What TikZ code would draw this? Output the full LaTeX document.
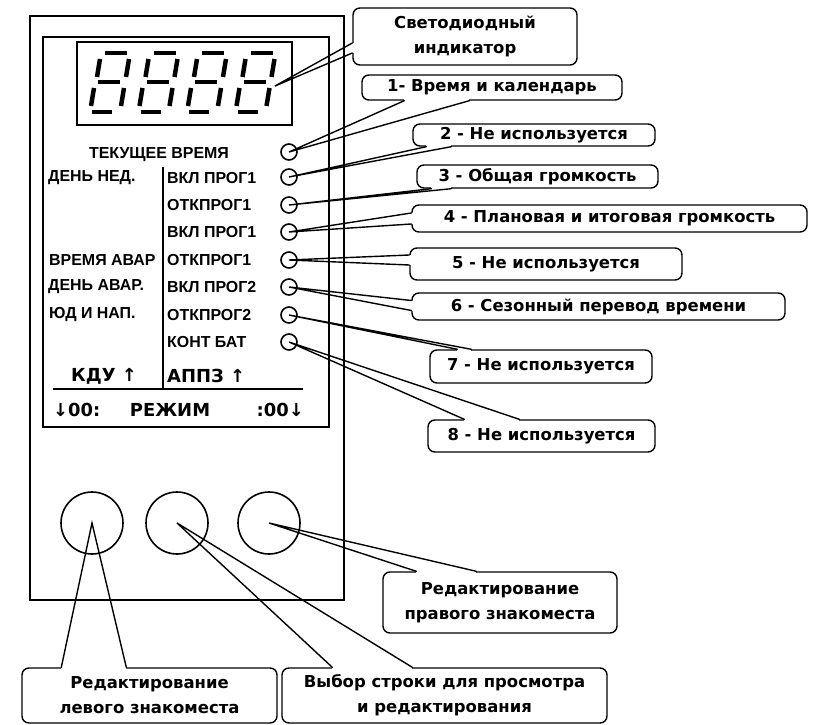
\documentclass[tikz,border=0pt]{standalone}
\usepackage{fontspec}
\setmainfont{DejaVu Sans}
\newfontfamily\panelfam{Liberation Sans}
\usetikzlibrary{calc}
\newcommand\panelfont{\panelfam\bfseries\fontsize{16}{18}\selectfont}
\newcommand\modefont{\bfseries\fontsize{18}{20}\selectfont}
\newcommand\notefont{\bfseries\fontsize{16.5}{25}\selectfont}
\tikzset{
  frame/.style={line width=1.6pt},
  panel/.style={font=\panelfont, inner sep=0pt, anchor=west},
  modetext/.style={font=\modefont, inner sep=0pt, anchor=west},
  led/.style={circle, draw, line width=1.6pt, minimum size=16bp, inner sep=0pt},
  knob/.style={circle, draw, line width=1.6pt, minimum size=62bp, inner sep=0pt},
  note/.style={rectangle, draw, line width=1.4pt, rounded corners=7bp,
    font=\notefont, align=center, inner sep=0pt},
  erase/.style={white, line width=2.8pt},
  tail/.style={line width=1.4pt, line cap=round},
  seg/.style={line width=4.5bp}
}
% pointer of a callout: node, anchor, two base offsets, target
\newcommand\notetail[5]{%
  \draw[erase] ($(#1.#2)+#3$) -- ($(#1.#2)+#4$);
  \draw[tail] ($(#1.#2)+#3$) -- (#5) -- ($(#1.#2)+#4$);}

\begin{document}
\begin{tikzpicture}[x=1bp, y=-1bp]
\useasboundingbox (0,0) rectangle (818,725);

% device body, panel and display window
\draw[frame] (30,16) rectangle (344,600);
\draw[frame] (43,37) rectangle (329,427);
\draw[frame] (77,42) rectangle (292,125);

% four seven-segment digits
\foreach \dx in {0,48.5,97,145.5} {
  \begin{scope}[shift={(105+\dx,53)}]
    \draw[seg] (0,0) -- (22,0);
    \draw[seg] (-5,6) -- (-8,24);
    \draw[seg] (24,6) -- (21,24);
    \draw[seg] (-7,29) -- (15,29);
    \draw[seg] (-11,35) -- (-14,53);
    \draw[seg] (19,35) -- (16,53);
    \draw[seg] (-13,59) -- (7,59);
  \end{scope}
}
\coordinate (disp) at (275,86);

% panel captions
\node[panel, anchor=center] (tnow) at (159,155) {ТЕКУЩЕЕ ВРЕМЯ};
\node[panel] (lday) at (48,178) {ДЕНЬ НЕД.};
\node[panel] (lalt) at (49,260) {ВРЕМЯ АВАР};
\node[panel] (ldal) at (48,287) {ДЕНЬ АВАР.};
\node[panel] (lcod) at (49,315) {ЮД И НАП.};
\node[panel] (r1) at (167,178) {ВКЛ ПРОГ1};
\node[panel] (r2) at (167,205) {ОТКПРОГ1};
\node[panel] (r3) at (167,232) {ВКЛ ПРОГ1};
\node[panel] (r4) at (167,260) {ОТКПРОГ1};
\node[panel] (r5) at (167,287) {ВКЛ ПРОГ2};
\node[panel] (r6) at (167,315) {ОТКПРОГ2};
\node[panel] (r7) at (167,342) {КОНТ БАТ};
\node[modetext, anchor=center] (lkdu) at (104,376) {КДУ ↑};
\node[modetext] (rapz) at (167,376) {АППЗ ↑};
\node[modetext] (mleft) at (53,410) {↓00:};
\node[modetext, anchor=center] (mode) at (170,410) {РЕЖИМ};
\node[modetext, anchor=east] (mright) at (304,410) {:00↓};
\draw[frame] (163,167) -- (163,389);
\draw[frame] (53,389) -- (303,389);

% indicator lamps
\foreach \i/\y in {1/152,2/177,3/205,4/232,5/260,6/287,7/315,8/342}
  \node[led] (led\i) at (289,\y) {};

% buttons
\node[knob] (bleft) at (92,523) {};
\node[knob] (bsel) at (177,523) {};
\node[knob] (bright) at (269,523) {};

% callouts
\node[note, minimum width=224bp, minimum height=57bp] (cled) at (465,36.5) {Светодиодный\\индикатор};
\node[note, minimum width=260bp, minimum height=25bp] (c1) at (492,87.5) {1- Время и календарь};
\node[note, minimum width=242bp, minimum height=22bp] (c2) at (534,135) {2 - Не используется};
\node[note, minimum width=241bp, minimum height=23bp] (c3) at (537.5,176.5) {3 - Общая громкость};
\node[note, minimum width=395bp, minimum height=27bp] (c4) at (609.5,218.5) {4 - Плановая и итоговая громкость};
\node[note, minimum width=272bp, minimum height=32bp] (c5) at (546,264) {5 - Не используется};
\node[note, minimum width=373bp, minimum height=27bp] (c6) at (598.5,306.5) {6 - Сезонный перевод времени};
\node[note, minimum width=222bp, minimum height=33bp] (c7) at (541,366.5) {7 - Не используется};
\node[note, minimum width=227bp, minimum height=32bp] (c8) at (541.5,436) {8 - Не используется};
\node[note, minimum width=234bp, minimum height=61bp] (cright) at (500,602.5) {Редактирование\\правого знакоместа};
\node[note, minimum width=255bp, minimum height=55bp] (cleft) at (149.5,695.5) {Редактирование\\левого знакоместа};
\node[note, minimum width=325bp, minimum height=55bp] (csel) at (444.5,695.5) {Выбор строки для просмотра\\и редактирования};

\notetail{cled}{west}{(0,6.5)}{(0,16.5)}{disp}
\notetail{c1}{south west}{(43,0)}{(108,0)}{led1.center}
\notetail{c2}{south west}{(14,0)}{(39,0)}{led2.center}
\notetail{c3}{south west}{(15,0)}{(35,0)}{led3.center}
\notetail{c4}{west}{(0,-5.5)}{(0,5.5)}{led4.center}
\notetail{c5}{west}{(0,-9)}{(0,1)}{led5.center}
\notetail{c6}{west}{(0,-6)}{(0,4)}{led6.center}
\notetail{c7}{north west}{(28,0)}{(42,0)}{led7.center}
\notetail{c8}{north west}{(37,0)}{(92,0)}{led8.center}
\notetail{cright}{north west}{(34,0)}{(94,0)}{bright.center}
\notetail{cleft}{north west}{(40,0)}{(105,0)}{bleft.center}
\notetail{csel}{north west}{(51,0)}{(131,0)}{bsel.center}
\end{tikzpicture}
\end{document}
